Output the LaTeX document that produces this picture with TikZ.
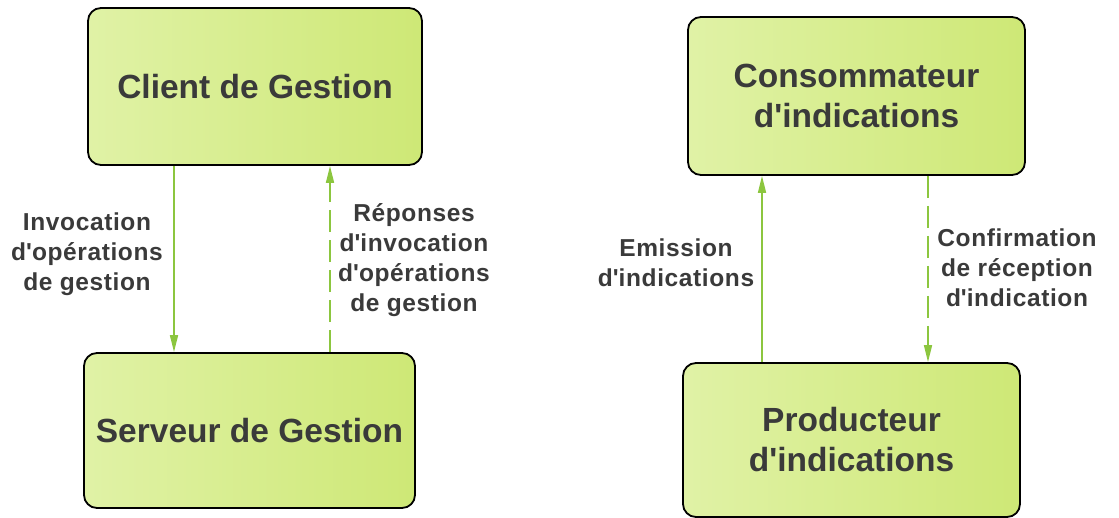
\documentclass[tikz,border=0pt]{standalone}
\usepackage{fontspec}
\setmainfont{Liberation Sans}
\newfontfamily\labelfont[LetterSpace=2.5]{Liberation Sans}
\usetikzlibrary{arrows.meta}
\newcommand{\apos}{\textquotesingle}
\definecolor{boxlight}{RGB}{224,242,166}
\definecolor{boxdeep}{RGB}{206,232,118}
\definecolor{txtgray}{RGB}{58,58,58}
\definecolor{flowgreen}{RGB}{140,198,63}
\tikzset{
  mgmtbox/.style={draw=black, line width=1.8pt, rounded corners=13pt,
    left color=boxlight, right color=boxdeep, text=txtgray,
    font=\bfseries\fontsize{33.5}{40}\selectfont, align=center, inner sep=0pt},
  flowlabel/.style={text=txtgray, font=\labelfont\bfseries\fontsize{24.5}{30}\selectfont,
    align=center, inner sep=0pt},
  flow/.style={draw=flowgreen, line width=1.6pt,
    -{Triangle[length=17pt,width=8pt]}, shorten >=0pt},
  flowdash/.style={flow, dash pattern=on 22pt off 8pt}
}
\begin{document}
\begin{tikzpicture}
\useasboundingbox (0,0) rectangle (1119pt,-518pt);
\fill[white] (0,0) rectangle (1119pt,-518pt);

% management side
\node[mgmtbox, minimum width=334pt, minimum height=157pt] (client) at (255pt,-86.5pt) {Client de Gestion};
\node[mgmtbox, minimum width=331pt, minimum height=155pt] (serveur) at (249.5pt,-430.5pt) {Serveur de Gestion};

% notification side
\node[mgmtbox, minimum width=337pt, minimum height=158pt] (conso) at (856.5pt,-96pt) {Consommateur\\d\apos indications};
\node[mgmtbox, minimum width=337pt, minimum height=154pt] (prod) at (851.5pt,-440pt) {Producteur\\d\apos indications};

% vertical positions of the connectors
\coordinate (xinv) at (174pt,0);
\coordinate (xrep) at (330pt,0);
\coordinate (xemi) at (762pt,0);
\coordinate (xconf) at (928pt,0);

\draw[flow] (client.south -| xinv) -- (serveur.north -| xinv);
\draw[flowdash] (serveur.north -| xrep) -- (client.south -| xrep);
\draw[flow] (prod.north -| xemi) -- (conso.south -| xemi);
\draw[flowdash] (conso.south -| xconf) -- (prod.north -| xconf);

% labels
\node[flowlabel] (linv) at (87pt,-254pt) {Invocation\\d\apos opérations\\de gestion};
\node[flowlabel] (lrep) at (414pt,-260pt) {Réponses\\d\apos invocation\\d\apos opérations\\de gestion};
\node[flowlabel] (lemi) at (676pt,-263pt) {Emission\\d\apos indications};
\node[flowlabel] (lconf) at (1017pt,-268pt) {Confirmation\\de réception\\d\apos indication};
\end{tikzpicture}
\end{document}
